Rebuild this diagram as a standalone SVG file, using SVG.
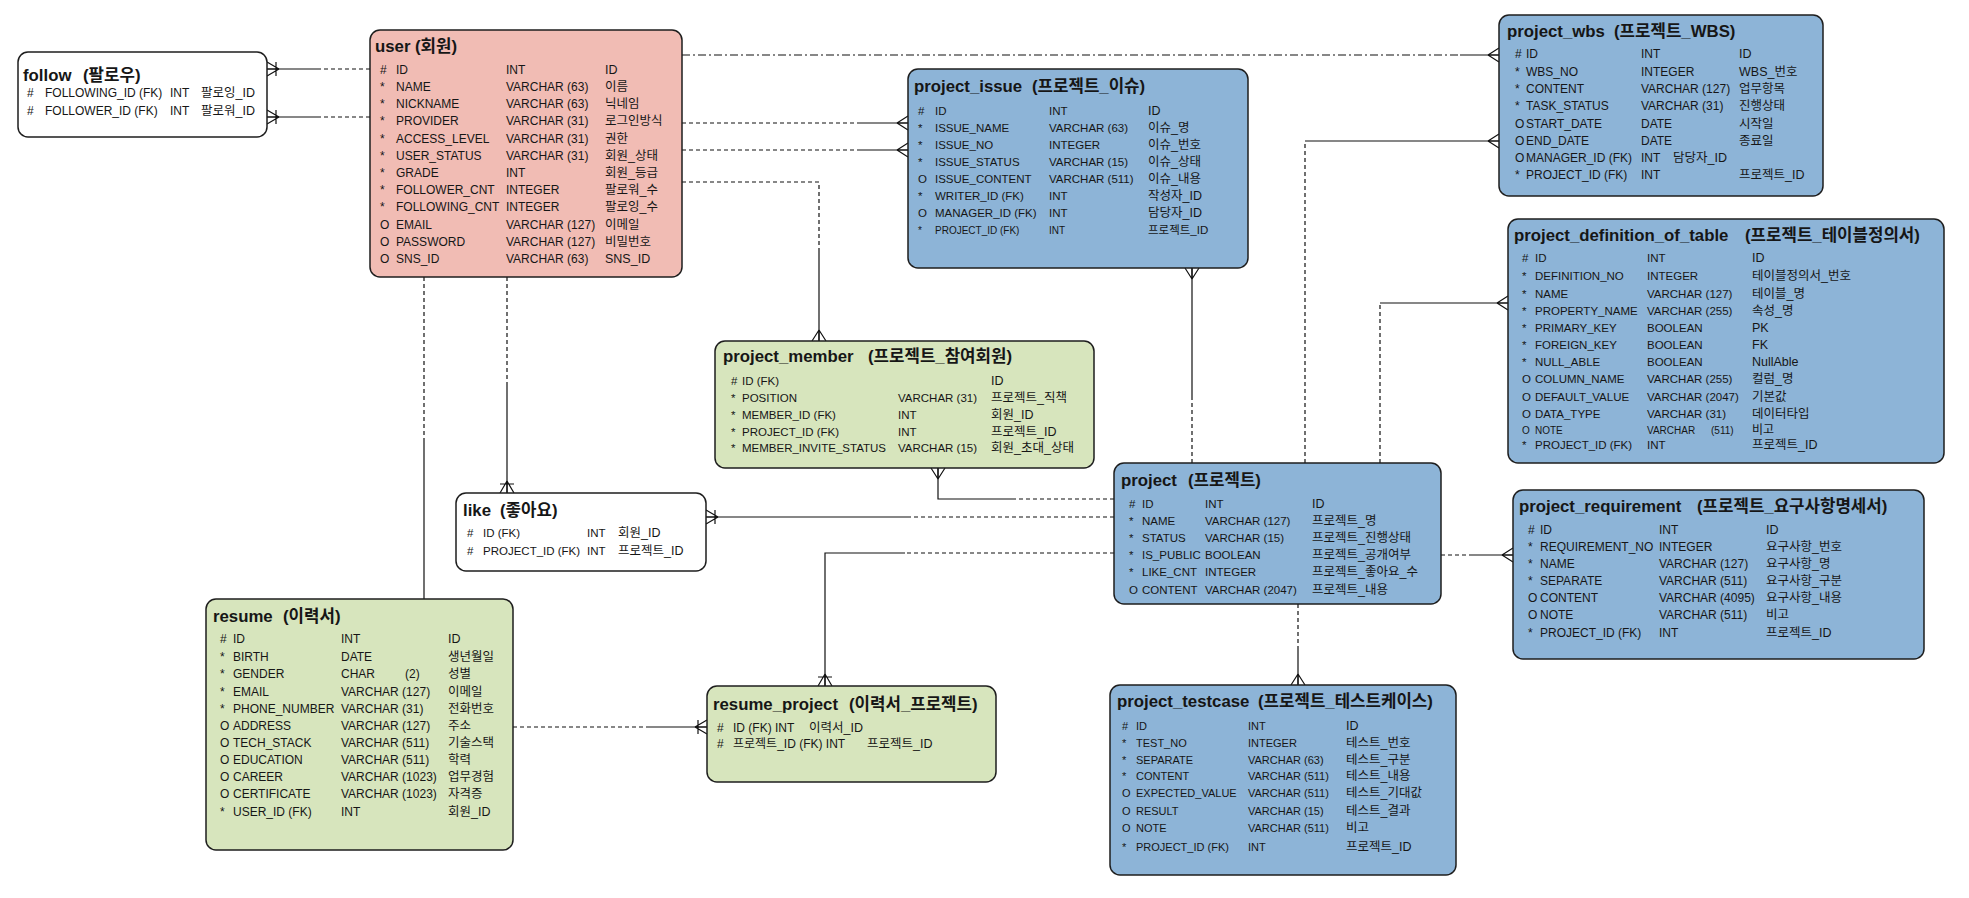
<svg xmlns="http://www.w3.org/2000/svg" width="1969" height="898" viewBox="0 0 1969 898">
<style>
  .box{stroke:#1e1e1e;stroke-width:1.5}
  .white{fill:#ffffff}
  .pink{fill:#f1bcb4}
  .blue{fill:#8db4d7}
  .green{fill:#d7e5bd}
  text{font-family:"Liberation Sans","Noto Sans CJK KR",sans-serif;fill:#161616}
  .h{font-size:16.8px;font-weight:bold}
  .r12 text.r{font-size:12px}
  .r115 text.r{font-size:11.5px}
  .r11 text.r{font-size:11px}
  text.r tspan:last-child{font-size:12.5px}
  .sm{font-size:10px}
  .ln{fill:none;stroke:#111;stroke-width:1.2}
  .dash{stroke-dasharray:4 3}
  .dashdot{stroke-dasharray:8 3 2 3}
</style>
<defs>
  <!-- many -->
  <marker id="many" markerUnits="userSpaceOnUse" markerWidth="30" markerHeight="30" viewBox="-15 -15 30 30" refX="0" refY="0" orient="auto" overflow="visible">
    <path d="M-11,0 L0,-7 M-11,0 L0,7 M-11,0 L0,0" fill="none" stroke="#111" stroke-width="1.2"/>
  </marker>
  <!-- many, mandatory -->
  <marker id="manybar" markerUnits="userSpaceOnUse" markerWidth="30" markerHeight="30" viewBox="-15 -15 30 30" refX="0" refY="0" orient="auto" overflow="visible">
    <path d="M-12,0 L0,-7 M-12,0 L0,7 M-12,0 L0,0 M-9,-7 L-9,7" fill="none" stroke="#111" stroke-width="1.2"/>
  </marker>
</defs>

<!-- relationship lines -->
<g id="connectors">
  <path class="ln dash" d="M370,69 H320"/><path class="ln" d="M320,69 H267" marker-end="url(#manybar)"/>
  <path class="ln dash" d="M370,117 H320"/><path class="ln" d="M320,117 H267" marker-end="url(#manybar)"/>
  <path class="ln dashdot" d="M682,55 H1460"/><path class="ln" d="M1460,55 H1499" marker-end="url(#many)"/>
  <path class="ln dash" d="M682,123 H860"/><path class="ln" d="M860,123 H908" marker-end="url(#many)"/>
  <path class="ln dash" d="M682,150 H860"/><path class="ln" d="M860,150 H908" marker-end="url(#many)"/>
  <path class="ln dash" d="M682,182 H819 V250"/><path class="ln" d="M819,250 V341" marker-end="url(#many)"/>
  <path class="ln dash" d="M507,277 V385"/><path class="ln" d="M507,385 V493" marker-end="url(#manybar)"/>
  <path class="ln dash" d="M424,277 V438"/><path class="ln" d="M424,438 V599"/>
  <path class="ln dash" d="M1192,463 V400"/><path class="ln" d="M1192,400 V268" marker-end="url(#many)"/>
  <path class="ln dash" d="M1305,463 V141"/><path class="ln" d="M1305,141 H1499" marker-end="url(#many)"/>
  <path class="ln dash" d="M1380,463 V303"/><path class="ln" d="M1380,303 H1508" marker-end="url(#many)"/>
  <path class="ln dash" d="M1114,499 H1016"/><path class="ln" d="M1016,499 H938 V468" marker-end="url(#many)"/>
  <path class="ln dash" d="M1114,517 H909"/><path class="ln" d="M909,517 H706" marker-end="url(#manybar)"/>
  <path class="ln dash" d="M1114,553 H905"/><path class="ln" d="M905,553 H825 V686" marker-end="url(#manybar)"/>
  <path class="ln dash" d="M1441,555 H1473"/><path class="ln" d="M1473,555 H1513" marker-end="url(#many)"/>
  <path class="ln dash" d="M1298,604 V650"/><path class="ln" d="M1298,650 V685" marker-end="url(#many)"/>
  <path class="ln dash" d="M513,727 H650"/><path class="ln" d="M650,727 H707" marker-end="url(#manybar)"/>
</g>

<g id="follow" class="r12">
  <rect class="box white" x="18" y="52" width="249" height="85" rx="10"/>
  <text class="h" x="23" y="81">follow<tspan x="83">(팔로우)</tspan></text>
  <text class="r" y="97"><tspan x="27">#</tspan><tspan x="45">FOLLOWING_ID (FK)</tspan><tspan x="170">INT</tspan><tspan x="201">팔로잉_ID</tspan></text>
  <text class="r" y="115"><tspan x="27">#</tspan><tspan x="45">FOLLOWER_ID (FK)</tspan><tspan x="170">INT</tspan><tspan x="201">팔로워_ID</tspan></text>
</g>

<g id="user" class="r12">
  <rect class="box pink" x="370" y="30" width="312" height="247" rx="10"/>
  <text class="h" x="375" y="52">user<tspan x="415">(회원)</tspan></text>
  <text class="r" y="74"><tspan x="380">#</tspan><tspan x="396">ID</tspan><tspan x="506">INT</tspan><tspan x="605">ID</tspan></text>
  <text class="r" y="91"><tspan x="380">*</tspan><tspan x="396">NAME</tspan><tspan x="506">VARCHAR (63)</tspan><tspan x="605">이름</tspan></text>
  <text class="r" y="108"><tspan x="380">*</tspan><tspan x="396">NICKNAME</tspan><tspan x="506">VARCHAR (63)</tspan><tspan x="605">닉네임</tspan></text>
  <text class="r" y="125"><tspan x="380">*</tspan><tspan x="396">PROVIDER</tspan><tspan x="506">VARCHAR (31)</tspan><tspan x="605">로그인방식</tspan></text>
  <text class="r" y="143"><tspan x="380">*</tspan><tspan x="396">ACCESS_LEVEL</tspan><tspan x="506">VARCHAR (31)</tspan><tspan x="605">권한</tspan></text>
  <text class="r" y="160"><tspan x="380">*</tspan><tspan x="396">USER_STATUS</tspan><tspan x="506">VARCHAR (31)</tspan><tspan x="605">회원_상태</tspan></text>
  <text class="r" y="177"><tspan x="380">*</tspan><tspan x="396">GRADE</tspan><tspan x="506">INT</tspan><tspan x="605">회원_등급</tspan></text>
  <text class="r" y="194"><tspan x="380">*</tspan><tspan x="396">FOLLOWER_CNT</tspan><tspan x="506">INTEGER</tspan><tspan x="605">팔로워_수</tspan></text>
  <text class="r" y="211"><tspan x="380">*</tspan><tspan x="396">FOLLOWING_CNT</tspan><tspan x="506">INTEGER</tspan><tspan x="605">팔로잉_수</tspan></text>
  <text class="r" y="229"><tspan x="380">O</tspan><tspan x="396">EMAIL</tspan><tspan x="506">VARCHAR (127)</tspan><tspan x="605">이메일</tspan></text>
  <text class="r" y="246"><tspan x="380">O</tspan><tspan x="396">PASSWORD</tspan><tspan x="506">VARCHAR (127)</tspan><tspan x="605">비밀번호</tspan></text>
  <text class="r" y="263"><tspan x="380">O</tspan><tspan x="396">SNS_ID</tspan><tspan x="506">VARCHAR (63)</tspan><tspan x="605">SNS_ID</tspan></text>
</g>

<g id="project_issue" class="r115">
  <rect class="box blue" x="908" y="69" width="340" height="199" rx="10"/>
  <text class="h" x="914" y="92">project_issue<tspan x="1032">(프로젝트_이슈)</tspan></text>
  <text class="r" y="115"><tspan x="918">#</tspan><tspan x="935">ID</tspan><tspan x="1049">INT</tspan><tspan x="1148">ID</tspan></text>
  <text class="r" y="132"><tspan x="918">*</tspan><tspan x="935">ISSUE_NAME</tspan><tspan x="1049">VARCHAR (63)</tspan><tspan x="1148">이슈_명</tspan></text>
  <text class="r" y="149"><tspan x="918">*</tspan><tspan x="935">ISSUE_NO</tspan><tspan x="1049">INTEGER</tspan><tspan x="1148">이슈_번호</tspan></text>
  <text class="r" y="166"><tspan x="918">*</tspan><tspan x="935">ISSUE_STATUS</tspan><tspan x="1049">VARCHAR (15)</tspan><tspan x="1148">이슈_상태</tspan></text>
  <text class="r" y="183"><tspan x="918">O</tspan><tspan x="935">ISSUE_CONTENT</tspan><tspan x="1049">VARCHAR (511)</tspan><tspan x="1148">이슈_내용</tspan></text>
  <text class="r" y="200"><tspan x="918">*</tspan><tspan x="935">WRITER_ID (FK)</tspan><tspan x="1049">INT</tspan><tspan x="1148">작성자_ID</tspan></text>
  <text class="r" y="217"><tspan x="918">O</tspan><tspan x="935">MANAGER_ID (FK)</tspan><tspan x="1049">INT</tspan><tspan x="1148">담당자_ID</tspan></text>
  <text class="sm" y="234"><tspan x="918">*</tspan><tspan x="935">PROJECT_ID (FK)</tspan><tspan x="1049">INT</tspan><tspan x="1148" font-size="11.5">프로젝트_ID</tspan></text>
</g>

<g id="project_wbs" class="r12">
  <rect class="box blue" x="1499" y="15" width="324" height="181" rx="10"/>
  <text class="h" x="1507" y="37">project_wbs<tspan x="1614">(프로젝트_WBS)</tspan></text>
  <text class="r" y="58"><tspan x="1515">#</tspan><tspan x="1526">ID</tspan><tspan x="1641">INT</tspan><tspan x="1739">ID</tspan></text>
  <text class="r" y="76"><tspan x="1515">*</tspan><tspan x="1526">WBS_NO</tspan><tspan x="1641">INTEGER</tspan><tspan x="1739">WBS_번호</tspan></text>
  <text class="r" y="93"><tspan x="1515">*</tspan><tspan x="1526">CONTENT</tspan><tspan x="1641">VARCHAR (127)</tspan><tspan x="1739">업무항목</tspan></text>
  <text class="r" y="110"><tspan x="1515">*</tspan><tspan x="1526">TASK_STATUS</tspan><tspan x="1641">VARCHAR (31)</tspan><tspan x="1739">진행상태</tspan></text>
  <text class="r" y="128"><tspan x="1515">O</tspan><tspan x="1526">START_DATE</tspan><tspan x="1641">DATE</tspan><tspan x="1739">시작일</tspan></text>
  <text class="r" y="145"><tspan x="1515">O</tspan><tspan x="1526">END_DATE</tspan><tspan x="1641">DATE</tspan><tspan x="1739">종료일</tspan></text>
  <text class="r" y="162"><tspan x="1515">O</tspan><tspan x="1526">MANAGER_ID (FK)</tspan><tspan x="1641">INT</tspan><tspan x="1673">담당자_ID</tspan></text>
  <text class="r" y="179"><tspan x="1515">*</tspan><tspan x="1526">PROJECT_ID (FK)</tspan><tspan x="1641">INT</tspan><tspan x="1739">프로젝트_ID</tspan></text>
</g>

<g id="project_definition_of_table" class="r115">
  <rect class="box blue" x="1508" y="219" width="436" height="244" rx="10"/>
  <text class="h" x="1514" y="241">project_definition_of_table<tspan x="1745">(프로젝트_테이블정의서)</tspan></text>
  <text class="r" y="262"><tspan x="1522">#</tspan><tspan x="1535">ID</tspan><tspan x="1647">INT</tspan><tspan x="1752">ID</tspan></text>
  <text class="r" y="280"><tspan x="1522">*</tspan><tspan x="1535">DEFINITION_NO</tspan><tspan x="1647">INTEGER</tspan><tspan x="1752">테이블정의서_번호</tspan></text>
  <text class="r" y="298"><tspan x="1522">*</tspan><tspan x="1535">NAME</tspan><tspan x="1647">VARCHAR (127)</tspan><tspan x="1752">테이블_명</tspan></text>
  <text class="r" y="315"><tspan x="1522">*</tspan><tspan x="1535">PROPERTY_NAME</tspan><tspan x="1647">VARCHAR (255)</tspan><tspan x="1752">속성_명</tspan></text>
  <text class="r" y="332"><tspan x="1522">*</tspan><tspan x="1535">PRIMARY_KEY</tspan><tspan x="1647">BOOLEAN</tspan><tspan x="1752">PK</tspan></text>
  <text class="r" y="349"><tspan x="1522">*</tspan><tspan x="1535">FOREIGN_KEY</tspan><tspan x="1647">BOOLEAN</tspan><tspan x="1752">FK</tspan></text>
  <text class="r" y="366"><tspan x="1522">*</tspan><tspan x="1535">NULL_ABLE</tspan><tspan x="1647">BOOLEAN</tspan><tspan x="1752">NullAble</tspan></text>
  <text class="r" y="383"><tspan x="1522">O</tspan><tspan x="1535">COLUMN_NAME</tspan><tspan x="1647">VARCHAR (255)</tspan><tspan x="1752">컬럼_명</tspan></text>
  <text class="r" y="401"><tspan x="1522">O</tspan><tspan x="1535">DEFAULT_VALUE</tspan><tspan x="1647">VARCHAR (2047)</tspan><tspan x="1752">기본값</tspan></text>
  <text class="r" y="418"><tspan x="1522">O</tspan><tspan x="1535">DATA_TYPE</tspan><tspan x="1647">VARCHAR (31)</tspan><tspan x="1752">데이터타입</tspan></text>
  <text class="sm" y="434"><tspan x="1522">O</tspan><tspan x="1535">NOTE</tspan><tspan x="1647">VARCHAR</tspan><tspan x="1711">(511)</tspan><tspan x="1752" font-size="12">비고</tspan></text>
  <text class="r" y="449"><tspan x="1522">*</tspan><tspan x="1535">PROJECT_ID (FK)</tspan><tspan x="1647">INT</tspan><tspan x="1752">프로젝트_ID</tspan></text>
</g>

<g id="project_member" class="r115">
  <rect class="box green" x="715" y="341" width="379" height="127" rx="10"/>
  <text class="h" x="723" y="362">project_member<tspan x="868">(프로젝트_참여회원)</tspan></text>
  <text class="r" y="385"><tspan x="731">#</tspan><tspan x="742">ID (FK)</tspan><tspan x="991">ID</tspan></text>
  <text class="r" y="402"><tspan x="731">*</tspan><tspan x="742">POSITION</tspan><tspan x="898">VARCHAR (31)</tspan><tspan x="991">프로젝트_직책</tspan></text>
  <text class="r" y="419"><tspan x="731">*</tspan><tspan x="742">MEMBER_ID (FK)</tspan><tspan x="898">INT</tspan><tspan x="991">회원_ID</tspan></text>
  <text class="r" y="436"><tspan x="731">*</tspan><tspan x="742">PROJECT_ID (FK)</tspan><tspan x="898">INT</tspan><tspan x="991">프로젝트_ID</tspan></text>
  <text class="r" y="452"><tspan x="731">*</tspan><tspan x="742">MEMBER_INVITE_STATUS</tspan><tspan x="898">VARCHAR (15)</tspan><tspan x="991">회원_초대_상태</tspan></text>
</g>

<g id="like" class="r115">
  <rect class="box white" x="456" y="493" width="250" height="78" rx="10"/>
  <text class="h" x="463" y="516">like<tspan x="500">(좋아요)</tspan></text>
  <text class="r" y="537"><tspan x="467">#</tspan><tspan x="483">ID (FK)</tspan><tspan x="587">INT</tspan><tspan x="618">회원_ID</tspan></text>
  <text class="r" y="555"><tspan x="467">#</tspan><tspan x="483">PROJECT_ID (FK)</tspan><tspan x="587">INT</tspan><tspan x="618">프로젝트_ID</tspan></text>
</g>

<g id="project" class="r115">
  <rect class="box blue" x="1114" y="463" width="327" height="141" rx="10"/>
  <text class="h" x="1121" y="486">project<tspan x="1188">(프로젝트)</tspan></text>
  <text class="r" y="508"><tspan x="1129">#</tspan><tspan x="1142">ID</tspan><tspan x="1205">INT</tspan><tspan x="1312">ID</tspan></text>
  <text class="r" y="525"><tspan x="1129">*</tspan><tspan x="1142">NAME</tspan><tspan x="1205">VARCHAR (127)</tspan><tspan x="1312">프로젝트_명</tspan></text>
  <text class="r" y="542"><tspan x="1129">*</tspan><tspan x="1142">STATUS</tspan><tspan x="1205">VARCHAR (15)</tspan><tspan x="1312">프로젝트_진행상태</tspan></text>
  <text class="r" y="559"><tspan x="1129">*</tspan><tspan x="1142">IS_PUBLIC</tspan><tspan x="1205">BOOLEAN</tspan><tspan x="1312">프로젝트_공개여부</tspan></text>
  <text class="r" y="576"><tspan x="1129">*</tspan><tspan x="1142">LIKE_CNT</tspan><tspan x="1205">INTEGER</tspan><tspan x="1312">프로젝트_좋아요_수</tspan></text>
  <text class="r" y="594"><tspan x="1129">O</tspan><tspan x="1142">CONTENT</tspan><tspan x="1205">VARCHAR (2047)</tspan><tspan x="1312">프로젝트_내용</tspan></text>
</g>

<g id="project_requirement" class="r12">
  <rect class="box blue" x="1513" y="490" width="411" height="169" rx="10"/>
  <text class="h" x="1519" y="512">project_requirement<tspan x="1697">(프로젝트_요구사항명세서)</tspan></text>
  <text class="r" y="534"><tspan x="1528">#</tspan><tspan x="1540">ID</tspan><tspan x="1659">INT</tspan><tspan x="1766">ID</tspan></text>
  <text class="r" y="551"><tspan x="1528">*</tspan><tspan x="1540">REQUIREMENT_NO</tspan><tspan x="1659">INTEGER</tspan><tspan x="1766">요구사항_번호</tspan></text>
  <text class="r" y="568"><tspan x="1528">*</tspan><tspan x="1540">NAME</tspan><tspan x="1659">VARCHAR (127)</tspan><tspan x="1766">요구사항_명</tspan></text>
  <text class="r" y="585"><tspan x="1528">*</tspan><tspan x="1540">SEPARATE</tspan><tspan x="1659">VARCHAR (511)</tspan><tspan x="1766">요구사항_구분</tspan></text>
  <text class="r" y="602"><tspan x="1528">O</tspan><tspan x="1540">CONTENT</tspan><tspan x="1659">VARCHAR (4095)</tspan><tspan x="1766">요구사항_내용</tspan></text>
  <text class="r" y="619"><tspan x="1528">O</tspan><tspan x="1540">NOTE</tspan><tspan x="1659">VARCHAR (511)</tspan><tspan x="1766">비고</tspan></text>
  <text class="r" y="637"><tspan x="1528">*</tspan><tspan x="1540">PROJECT_ID (FK)</tspan><tspan x="1659">INT</tspan><tspan x="1766">프로젝트_ID</tspan></text>
</g>

<g id="resume" class="r12">
  <rect class="box green" x="206" y="599" width="307" height="251" rx="10"/>
  <text class="h" x="213" y="622">resume<tspan x="283">(이력서)</tspan></text>
  <text class="r" y="643"><tspan x="220">#</tspan><tspan x="233">ID</tspan><tspan x="341">INT</tspan><tspan x="448">ID</tspan></text>
  <text class="r" y="661"><tspan x="220">*</tspan><tspan x="233">BIRTH</tspan><tspan x="341">DATE</tspan><tspan x="448">생년월일</tspan></text>
  <text class="r" y="678"><tspan x="220">*</tspan><tspan x="233">GENDER</tspan><tspan x="341">CHAR</tspan><tspan x="405">(2)</tspan><tspan x="448">성별</tspan></text>
  <text class="r" y="696"><tspan x="220">*</tspan><tspan x="233">EMAIL</tspan><tspan x="341">VARCHAR (127)</tspan><tspan x="448">이메일</tspan></text>
  <text class="r" y="713"><tspan x="220">*</tspan><tspan x="233">PHONE_NUMBER</tspan><tspan x="341">VARCHAR (31)</tspan><tspan x="448">전화번호</tspan></text>
  <text class="r" y="730"><tspan x="220">O</tspan><tspan x="233">ADDRESS</tspan><tspan x="341">VARCHAR (127)</tspan><tspan x="448">주소</tspan></text>
  <text class="r" y="747"><tspan x="220">O</tspan><tspan x="233">TECH_STACK</tspan><tspan x="341">VARCHAR (511)</tspan><tspan x="448">기술스택</tspan></text>
  <text class="r" y="764"><tspan x="220">O</tspan><tspan x="233">EDUCATION</tspan><tspan x="341">VARCHAR (511)</tspan><tspan x="448">학력</tspan></text>
  <text class="r" y="781"><tspan x="220">O</tspan><tspan x="233">CAREER</tspan><tspan x="341">VARCHAR (1023)</tspan><tspan x="448">업무경험</tspan></text>
  <text class="r" y="798"><tspan x="220">O</tspan><tspan x="233">CERTIFICATE</tspan><tspan x="341">VARCHAR (1023)</tspan><tspan x="448">자격증</tspan></text>
  <text class="r" y="816"><tspan x="220">*</tspan><tspan x="233">USER_ID (FK)</tspan><tspan x="341">INT</tspan><tspan x="448">회원_ID</tspan></text>
</g>

<g id="resume_project" class="r12">
  <rect class="box green" x="707" y="686" width="289" height="96" rx="10"/>
  <text class="h" x="713" y="710">resume_project<tspan x="849">(이력서_프로젝트)</tspan></text>
  <text class="r" y="732"><tspan x="717">#</tspan><tspan x="733">ID (FK) INT</tspan><tspan x="809">이력서_ID</tspan></text>
  <text class="r" y="748"><tspan x="717">#</tspan><tspan x="733">프로젝트_ID (FK) INT</tspan><tspan x="867">프로젝트_ID</tspan></text>
</g>

<g id="project_testcase" class="r11">
  <rect class="box blue" x="1110" y="685" width="346" height="190" rx="10"/>
  <text class="h" x="1117" y="707">project_testcase<tspan x="1258">(프로젝트_테스트케이스)</tspan></text>
  <text class="r" y="730"><tspan x="1122">#</tspan><tspan x="1136">ID</tspan><tspan x="1248">INT</tspan><tspan x="1346">ID</tspan></text>
  <text class="r" y="747"><tspan x="1122">*</tspan><tspan x="1136">TEST_NO</tspan><tspan x="1248">INTEGER</tspan><tspan x="1346">테스트_번호</tspan></text>
  <text class="r" y="764"><tspan x="1122">*</tspan><tspan x="1136">SEPARATE</tspan><tspan x="1248">VARCHAR (63)</tspan><tspan x="1346">테스트_구분</tspan></text>
  <text class="r" y="780"><tspan x="1122">*</tspan><tspan x="1136">CONTENT</tspan><tspan x="1248">VARCHAR (511)</tspan><tspan x="1346">테스트_내용</tspan></text>
  <text class="r" y="797"><tspan x="1122">O</tspan><tspan x="1136">EXPECTED_VALUE</tspan><tspan x="1248">VARCHAR (511)</tspan><tspan x="1346">테스트_기대값</tspan></text>
  <text class="r" y="815"><tspan x="1122">O</tspan><tspan x="1136">RESULT</tspan><tspan x="1248">VARCHAR (15)</tspan><tspan x="1346">테스트_결과</tspan></text>
  <text class="r" y="832"><tspan x="1122">O</tspan><tspan x="1136">NOTE</tspan><tspan x="1248">VARCHAR (511)</tspan><tspan x="1346">비고</tspan></text>
  <text class="r" y="851"><tspan x="1122">*</tspan><tspan x="1136">PROJECT_ID (FK)</tspan><tspan x="1248">INT</tspan><tspan x="1346">프로젝트_ID</tspan></text>
</g>
</svg>
